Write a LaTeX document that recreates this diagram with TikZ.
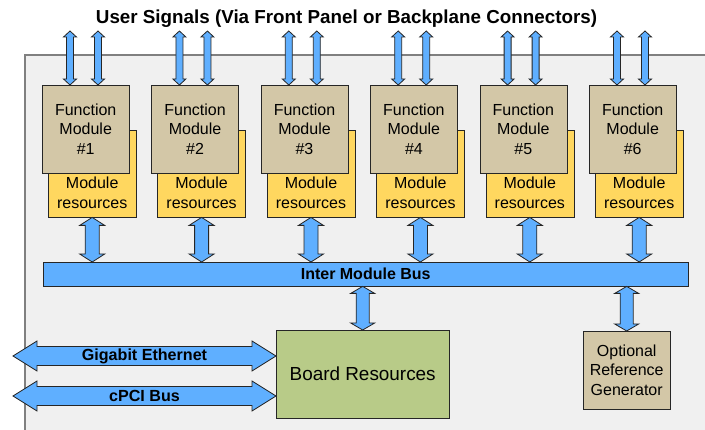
\documentclass[tikz,border=0pt]{standalone}
\usepackage{fontspec}
\setmainfont{Liberation Sans}
\usetikzlibrary{calc}
\definecolor{boardgrey}{HTML}{F0F0F0}
\definecolor{modtan}{HTML}{D3C7A7}
\definecolor{resyellow}{HTML}{FFD75F}
\definecolor{busblue}{HTML}{5FAFFF}
\definecolor{boardgreen}{HTML}{B8CB88}
% block arrows: #1 start, #2 end, #3 half shaft, #4 half head, #5 head length
\newcommand{\vlink}[5]{%
  \filldraw[link] let \p1=#1, \p2=#2 in
    (\x1,\y1) -- (\x1+#4,\y1-#5) -- (\x1+#3,\y1-#5) -- (\x1+#3,\y2+#5) -- (\x1+#4,\y2+#5) -- (\x1,\y2)
    -- (\x1-#4,\y2+#5) -- (\x1-#3,\y2+#5) -- (\x1-#3,\y1-#5) -- (\x1-#4,\y1-#5) -- cycle;}
\newcommand{\hlink}[5]{%
  \filldraw[link] let \p1=#1, \p2=#2 in
    (\x1,\y1) -- (\x1+#5,\y1+#4) -- (\x1+#5,\y1+#3) -- (\x2-#5,\y1+#3) -- (\x2-#5,\y1+#4) -- (\x2,\y1)
    -- (\x2-#5,\y1-#4) -- (\x2-#5,\y1-#3) -- (\x1+#5,\y1-#3) -- (\x1+#5,\y1-#4) -- cycle;}
\begin{document}
\begin{tikzpicture}[x=1pt, y=-1pt,
  module node/.style={draw=black!85, fill=modtan, minimum width=87pt, minimum height=88pt, align=center, anchor=north west, inner sep=0pt},
  res node/.style={draw=black!85, fill=resyellow, minimum width=88pt, minimum height=87pt, anchor=north west, inner sep=0pt},
  res text/.style={align=center, inner sep=0pt, font=\fontsize{16}{20}\selectfont},
  bus node/.style={draw=black!85, fill=busblue, minimum width=645pt, minimum height=24pt, anchor=north west, inner sep=0pt, font=\bfseries\fontsize{16}{19}\selectfont},
  board node/.style={draw=black!85, fill=boardgreen, minimum width=173pt, minimum height=88pt, anchor=north west, font=\fontsize{18.9}{22}\selectfont},
  link/.style={fill=busblue, draw=black!85, line width=0.8pt, line join=miter},
  bold label/.style={font=\bfseries\fontsize{16.1}{19}\selectfont, inner sep=0pt}]
\tikzstyle{every node}=[font=\fontsize{16}{19.5}\selectfont]
\useasboundingbox (0,0) rectangle (705,430);

\draw[draw=gray, fill=boardgrey, line width=1.2pt] (25,55) rectangle (720,445);
\node[font=\bfseries\fontsize{18.8}{22}\selectfont] (title) at (346.5,18.5) {User Signals (Via Front Panel or Backplane Connectors)};

\foreach \i in {1,...,6}{
  \node[res node] (r\i) at ({48+(\i-1)*109.4},130) {};
  \node[res text] at ($(r\i.south)+(0,-25)$) {Module\\resources};
  \node[module node] (m\i) at ({42+(\i-1)*109.4},85) {Function\\Module\\\#\i};
  \coordinate (sa\i) at ($(m\i.north west)+(28,-54)$);
  \coordinate (sb\i) at ($(m\i.north west)+(56,-54)$);
  \vlink{(sa\i)}{($(m\i.north west)+(28,0)$)}{3.5pt}{6.5pt}{6pt}
  \vlink{(sb\i)}{($(m\i.north west)+(56,0)$)}{3.5pt}{6.5pt}{6pt}
}

\node[bus node] (bus) at (43,262) {Inter Module Bus};
\foreach \i in {1,...,6}{
  \vlink{(r\i.south)}{(r\i.south |- bus.north)}{7pt}{12.5pt}{8pt}
}

\node[board node] (board) at (276,330) {Board Resources};
\node[module node, minimum height=78pt] (opt) at (583,331) {Optional\\Reference\\Generator};
\vlink{(board.north |- bus.south)}{(board.north)}{6.5pt}{12pt}{7pt}
\vlink{(opt.north |- bus.south)}{(opt.north)}{6.5pt}{12pt}{7pt}

\coordinate (gbe) at (13,356);
\coordinate (cpci) at (13,396);
\hlink{(gbe)}{(board.west |- gbe)}{9.5pt}{15pt}{24pt}
\hlink{(cpci)}{(board.west |- cpci)}{9.5pt}{15pt}{24pt}
\node[bold label] at ($(gbe)!0.5!(board.west |- gbe)$) {Gigabit Ethernet};
\node[bold label] at ($(cpci)!0.5!(board.west |- cpci)$) {cPCI Bus};
\end{tikzpicture}
\end{document}
